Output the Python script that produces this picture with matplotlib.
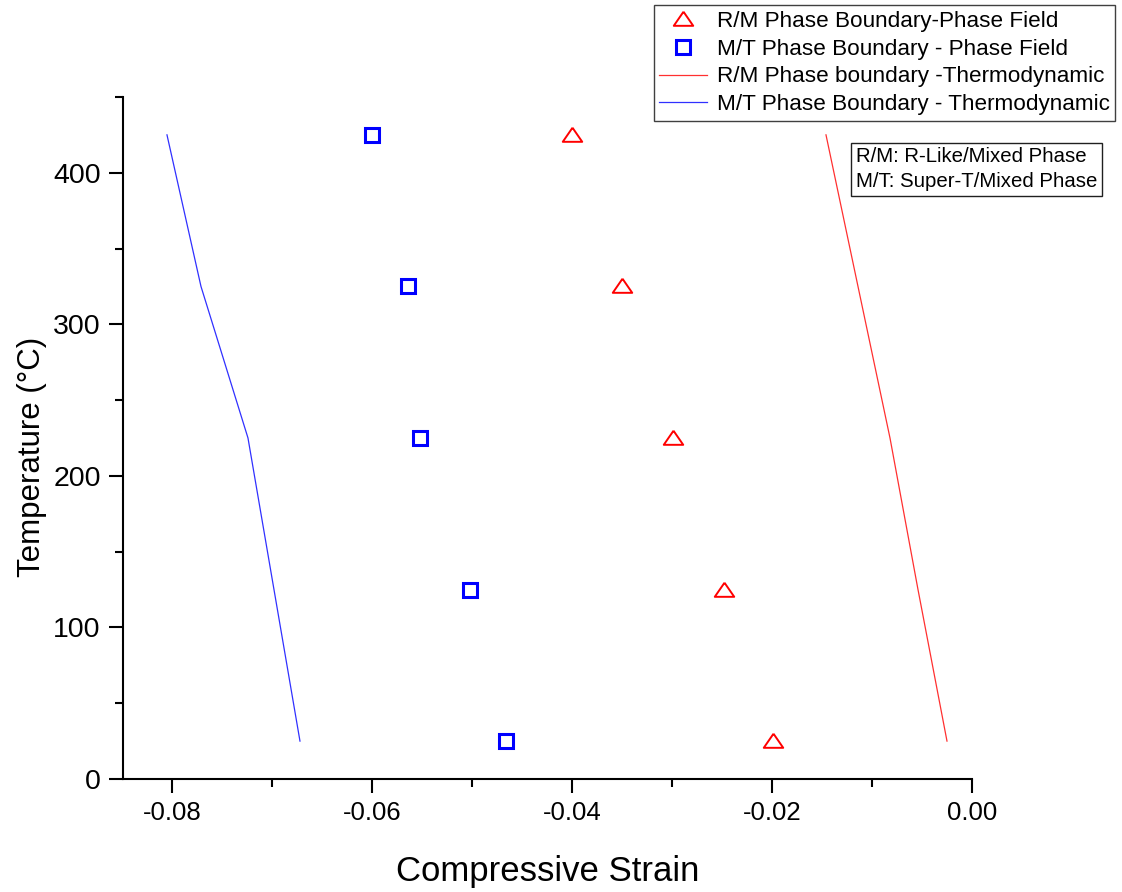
import numpy as np
import matplotlib
matplotlib.use("Agg")
import matplotlib.pyplot as plt
from matplotlib.ticker import MultipleLocator, FormatStrFormatter

plt.rcParams['font.family'] = ['Liberation Sans', 'DejaVu Sans']

# phase field points
temp_pf = [425, 325, 225, 125, 25]
rm_pf_strain = [-0.0400, -0.0350, -0.0299, -0.0248, -0.0199]
mt_pf_strain = [-0.0600, -0.0564, -0.0552, -0.0502, -0.0466]

# thermodynamic boundaries
temp_td = [425, 325, 225, 125, 25]
rm_td_strain = [-0.0146, -0.0114, -0.0082, -0.0054, -0.0025]
mt_td_strain = [-0.0805, -0.0771, -0.0724, -0.0698, -0.0672]

fig = plt.figure(figsize=(11.22, 8.92), dpi=100)
ax = fig.add_axes([0.1096, 0.1267, 0.7567, 0.7646])

tri = [(0, 0.8), (-1, -0.65), (1, -0.65), (0, 0.8)]
ax.plot(rm_pf_strain, temp_pf, linestyle='none', marker=tri, markersize=14,
        markerfacecolor='none', markeredgecolor='#ff0000', markeredgewidth=1.4,
        label='R/M Phase Boundary-Phase Field')
ax.plot(mt_pf_strain, temp_pf, linestyle='none', marker='s', markersize=9.5,
        markerfacecolor='none', markeredgecolor='#0000ff', markeredgewidth=2.2,
        label='M/T Phase Boundary - Phase Field')
ax.plot(rm_td_strain, temp_td, color='#ff3030', linewidth=0.9,
        label='R/M Phase boundary -Thermodynamic')
ax.plot(mt_td_strain, temp_td, color='#3030ff', linewidth=0.9,
        label='M/T Phase Boundary - Thermodynamic')

ax.set_xlim(-0.0849, 0.0)
ax.set_ylim(0, 450)

for s in ['top', 'right']:
    ax.spines[s].set_visible(False)
for s in ['left', 'bottom']:
    ax.spines[s].set_linewidth(1.5)

ax.xaxis.set_major_locator(MultipleLocator(0.02))
ax.xaxis.set_minor_locator(MultipleLocator(0.01))
ax.xaxis.set_major_formatter(FormatStrFormatter('%.2f'))
ax.yaxis.set_major_locator(MultipleLocator(100))
ax.yaxis.set_minor_locator(MultipleLocator(50))
ax.tick_params(which='major', direction='out', length=10, width=1.5, pad=6)
ax.tick_params(which='minor', direction='out', length=6, width=1.5)
ax.tick_params(axis='x', labelsize=18.5)
ax.tick_params(axis='y', labelsize=20.5)

ax.set_xlabel('Compressive Strain', fontsize=25)
ax.xaxis.set_label_coords(0.5, -0.112)
ax.set_ylabel('Temperature (\u00b0C)', fontsize=22.5)
ax.yaxis.set_label_coords(-0.089, 0.472)

fig.legend(loc='upper right', bbox_to_anchor=(0.994, 0.994), fontsize=16.2,
           frameon=True, fancybox=False, edgecolor='#404040', framealpha=1,
           handlelength=2.1, handletextpad=0.45, labelspacing=0.3,
           borderpad=0.25, borderaxespad=0)

fig.text(0.7629, 0.835, 'R/M: R-Like/Mixed Phase\nM/T: Super-T/Mixed Phase',
         fontsize=14.7, ha='left', va='top', linespacing=1.4,
         bbox=dict(boxstyle='square,pad=0.22', facecolor='white', edgecolor='#202020', linewidth=1))

fig.savefig('out.png', dpi=100)
